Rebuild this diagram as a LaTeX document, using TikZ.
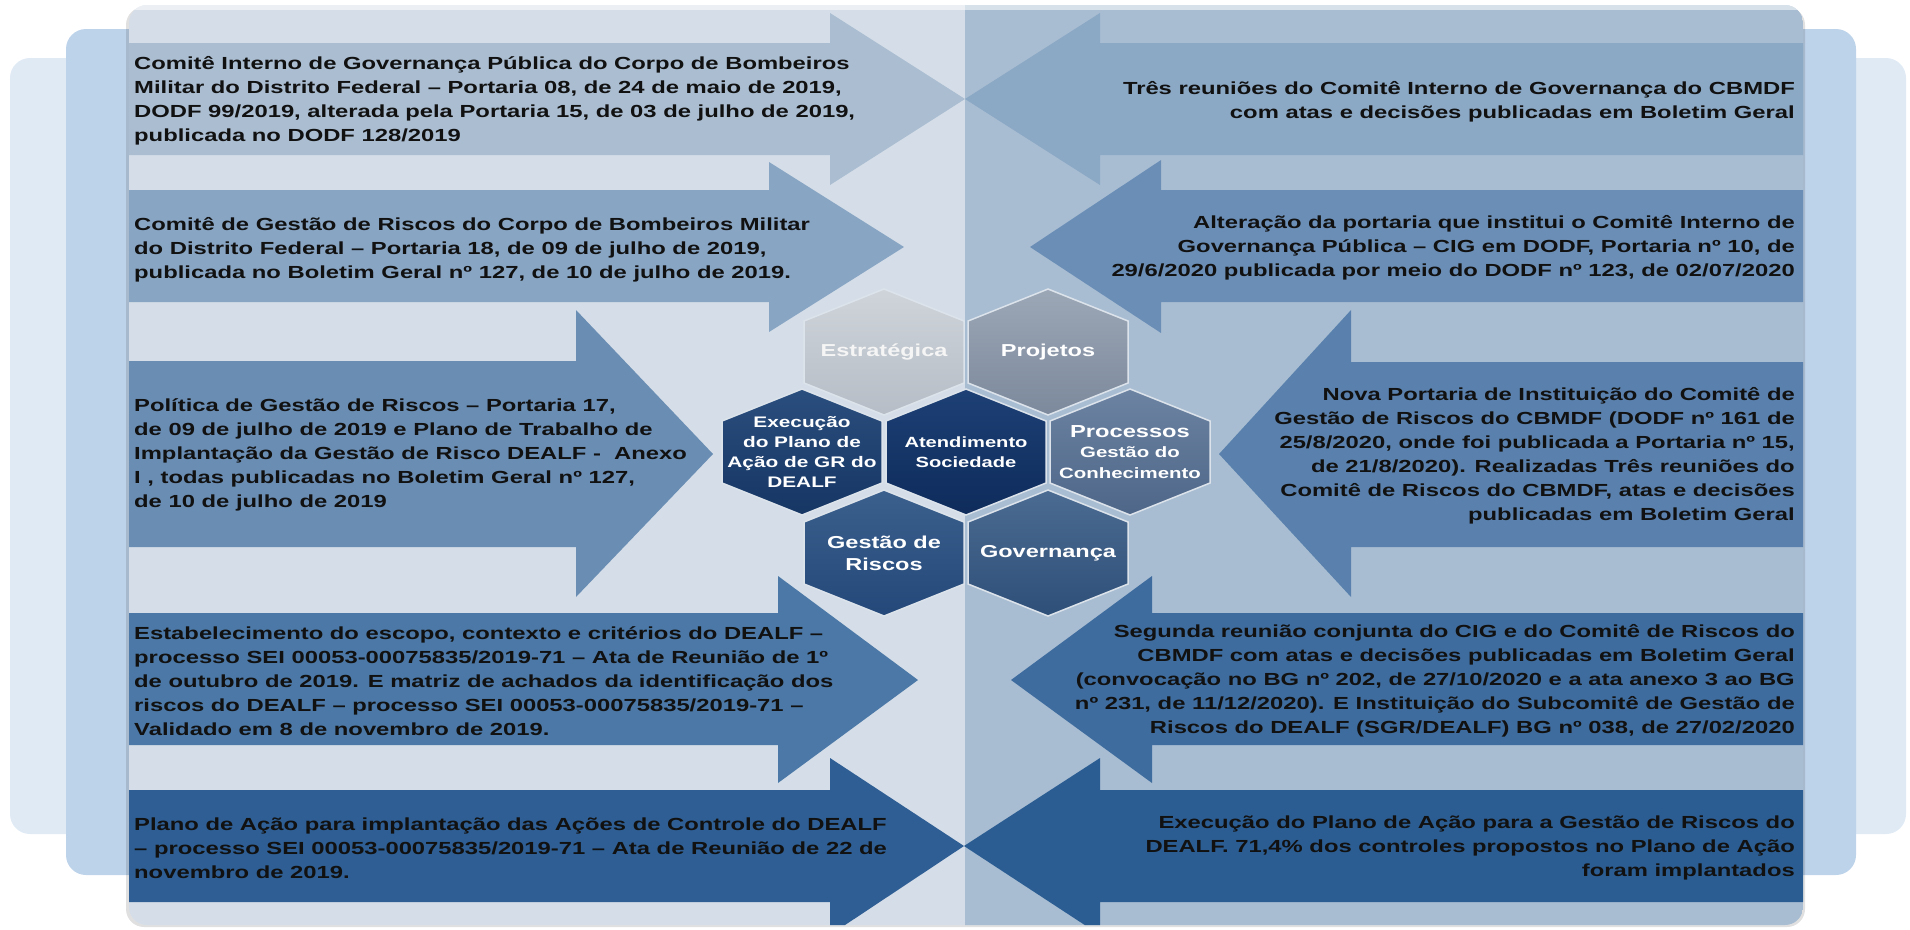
\documentclass[tikz,border=0pt]{standalone}
\usepackage{fontspec}
\setmainfont{Liberation Sans}[FakeStretch=1.36]
\definecolor{panelA}{HTML}{DFEAF5}
\definecolor{panelB}{HTML}{BDD3EA}
\definecolor{bgL}{HTML}{D5DEE8}
\definecolor{bgR}{HTML}{A8BDD2}
\definecolor{aL1}{HTML}{AABDD1}
\definecolor{aR1}{HTML}{8BA8C5}
\definecolor{aL2}{HTML}{88A5C4}
\definecolor{aR2}{HTML}{6B8EB6}
\definecolor{aL3}{HTML}{6A8DB4}
\definecolor{aR3}{HTML}{5A81AD}
\definecolor{aL4}{HTML}{4B78A6}
\definecolor{aR4}{HTML}{3F6C9E}
\definecolor{aL5}{HTML}{2E5E93}
\definecolor{aR5}{HTML}{2C5D92}
\definecolor{txt}{HTML}{111111}
\definecolor{hexEdge}{HTML}{DCE3EB}
\definecolor{hEstrA}{HTML}{CFD4DA}\definecolor{hEstrB}{HTML}{B6BDC6}
\definecolor{hProjA}{HTML}{9CA7B6}\definecolor{hProjB}{HTML}{7C899C}
\definecolor{hExecA}{HTML}{2A4E7E}\definecolor{hExecB}{HTML}{163664}
\definecolor{hAtenA}{HTML}{1D4075}\definecolor{hAtenB}{HTML}{0E2B5B}
\definecolor{hProcA}{HTML}{6C83A2}\definecolor{hProcB}{HTML}{4E6688}
\definecolor{hGestA}{HTML}{3B608D}\definecolor{hGestB}{HTML}{244879}
\definecolor{hGovA}{HTML}{4B6B92}\definecolor{hGovB}{HTML}{2E4F78}
\tikzset{
  ltext/.style={anchor=west, align=left, text=txt, inner sep=0pt,
    font=\bfseries\fontsize{17.5}{24}\selectfont},
  rtext/.style={anchor=east, align=right, text=txt, inner sep=0pt,
    font=\bfseries\fontsize{17.5}{24}\selectfont},
  hexfill/.style 2 args={top color=#1, bottom color=#2, draw=hexEdge, line width=1.5pt},
  hexlabel/.style={align=center, text=white, inner sep=0pt,
    font=\bfseries\fontsize{17.3}{22}\selectfont},
}
\newcommand\hexshape{(0,-63) -- (80,-31) -- (80,31) -- (0,63) -- (-80,31) -- (-80,-31) -- cycle}
\begin{document}
\begin{tikzpicture}[x=1pt,y=-1pt]
\useasboundingbox (0,0) rectangle (1910,929);
% back panels
\fill[panelA, rounded corners=20pt] (10,58) rectangle (1906,834);
\fill[panelB, rounded corners=20pt] (66,29) rectangle (1856,875);
% shadow of the main panel
\fill[black, opacity=0.12, rounded corners=18pt] (126,7) rectangle (1805,927);
\begin{scope}
\clip[rounded corners=18pt] (129,5) rectangle (1803,925);
\fill[bgL] (129,0) rectangle (965,929);
\fill[bgR] (965,0) rectangle (1803,929);
% left arrows (pointing right)
\fill[aL1] (100,43) -- (830,43) -- (830,13) -- (965,99) -- (830,185) -- (830,155) -- (100,155) -- cycle;
\fill[aL2] (100,190) -- (769,190) -- (769,162) -- (904,247) -- (769,332) -- (769,302) -- (100,302) -- cycle;
\fill[aL3] (100,361) -- (576,361) -- (576,310) -- (713,454) -- (576,597) -- (576,547) -- (100,547) -- cycle;
\fill[aL4] (100,613) -- (778,613) -- (778,576) -- (918,680) -- (778,783) -- (778,745) -- (100,745) -- cycle;
\fill[aL5] (100,790) -- (830,790) -- (830,758) -- (964,846) -- (830,935) -- (830,902) -- (100,902) -- cycle;
% right arrows (pointing left)
\fill[aR1] (1830,43) -- (1100,43) -- (1100,13) -- (965,99) -- (1100,185) -- (1100,155) -- (1830,155) -- cycle;
\fill[aR2] (1830,190) -- (1161,190) -- (1161,160) -- (1030,247) -- (1161,333) -- (1161,302) -- (1830,302) -- cycle;
\fill[aR3] (1830,362) -- (1351,362) -- (1351,310) -- (1219,454) -- (1351,597) -- (1351,547) -- (1830,547) -- cycle;
\fill[aR4] (1830,613) -- (1152,613) -- (1152,576) -- (1011,680) -- (1152,783) -- (1152,745) -- (1830,745) -- cycle;
\fill[aR5] (1830,790) -- (1100,790) -- (1100,758) -- (964,846) -- (1100,935) -- (1100,902) -- (1830,902) -- cycle;
% glossy top edge
\fill[white, opacity=0.55] (129,5) rectangle (1803,10);
\end{scope}
% hexagons
\draw[shift={(884,352)}, hexfill={hEstrA}{hEstrB}] \hexshape;
\draw[shift={(1048,352)}, hexfill={hProjA}{hProjB}] \hexshape;
\draw[shift={(802,452)}, hexfill={hExecA}{hExecB}] \hexshape;
\draw[shift={(966,452)}, hexfill={hAtenA}{hAtenB}] \hexshape;
\draw[shift={(1130,452)}, hexfill={hProcA}{hProcB}] \hexshape;
\draw[shift={(884,553)}, hexfill={hGestA}{hGestB}] \hexshape;
\draw[shift={(1048,553)}, hexfill={hGovA}{hGovB}] \hexshape;
% hexagon labels
\node[hexlabel, text=white!92!gray] (estr) at (884,352) {Estratégica};
\node[hexlabel] (proj) at (1048,352) {Projetos};
\node[hexlabel, font=\bfseries\fontsize{15.3}{20}\selectfont] (exec) at (802,452) {Execução\\do Plano de\\Ação de GR do\\DEALF};
\node[hexlabel, font=\bfseries\fontsize{14.8}{19.5}\selectfont] (aten) at (966,452) {Atendimento\\Sociedade};
\node[hexlabel, font=\bfseries\fontsize{15}{20.5}\selectfont] (proc) at (1130,452) {{\fontsize{17.4}{21}\selectfont Processos}\\Gestão do\\Conhecimento};
\node[hexlabel] (gest) at (884,553) {Gestão de\\Riscos};
\node[hexlabel] (gov) at (1048,553) {Governança};
% left texts
\node[ltext] (t1) at (134,101) {Comitê Interno de Governança Pública do Corpo de Bombeiros\\Militar do Distrito Federal – Portaria 08, de 24 de maio de 2019,\\DODF 99/2019, alterada pela Portaria 15, de 03 de julho de 2019,\\publicada no DODF 128/2019};
\node[ltext] (t2) at (134,250) {Comitê de Gestão de Riscos do Corpo de Bombeiros Militar\\do Distrito Federal – Portaria 18, de 09 de julho de 2019,\\publicada no Boletim Geral nº 127, de 10 de julho de 2019.};
\node[ltext] (t3) at (134,455) {Política de Gestão de Riscos – Portaria 17,\\de 09 de julho de 2019 e Plano de Trabalho de\\Implantação da Gestão de Risco DEALF -\ \ Anexo\\I , todas publicadas no Boletim Geral nº 127,\\de 10 de julho de 2019};
\node[ltext] (t4) at (134,681) {Estabelecimento do escopo, contexto e critérios do DEALF –\\processo SEI 00053-00075835/2019-71 – Ata de Reunião de 1º\\de outubro de 2019. E matriz de achados da identificação dos\\riscos do DEALF – processo SEI 00053-00075835/2019-71 –\\Validado em 8 de novembro de 2019.};
\node[ltext] (t5) at (134,848) {Plano de Ação para implantação das Ações de Controle do DEALF\\– processo SEI 00053-00075835/2019-71 – Ata de Reunião de 22 de\\novembro de 2019.};
% right texts
\node[rtext] (r1) at (1795,102) {Três reuniões do Comitê Interno de Governança do CBMDF\\com atas e decisões publicadas em Boletim Geral};
\node[rtext] (r2) at (1795,248) {Alteração da portaria que institui o Comitê Interno de\\Governança Pública – CIG em DODF, Portaria nº 10, de\\29/6/2020 publicada por meio do DODF nº 123, de 02/07/2020};
\node[rtext] (r3) at (1795,456) {Nova Portaria de Instituição do Comitê de\\Gestão de Riscos do CBMDF (DODF nº 161 de\\25/8/2020, onde foi publicada a Portaria nº 15,\\de 21/8/2020). Realizadas Três reuniões do\\Comitê de Riscos do CBMDF, atas e decisões\\publicadas em Boletim Geral};
\node[rtext] (r4) at (1795,681) {Segunda reunião conjunta do CIG e do Comitê de Riscos do\\CBMDF com atas e decisões publicadas em Boletim Geral\\(convocação no BG nº 202, de 27/10/2020 e a ata anexo 3 ao BG\\nº 231, de 11/12/2020). E Instituição do Subcomitê de Gestão de\\Riscos do DEALF (SGR/DEALF) BG nº 038, de 27/02/2020};
\node[rtext] (r5) at (1795,848) {Execução do Plano de Ação para a Gestão de Riscos do\\DEALF. 71,4\% dos controles propostos no Plano de Ação\\foram implantados};
\end{tikzpicture}
\end{document}
